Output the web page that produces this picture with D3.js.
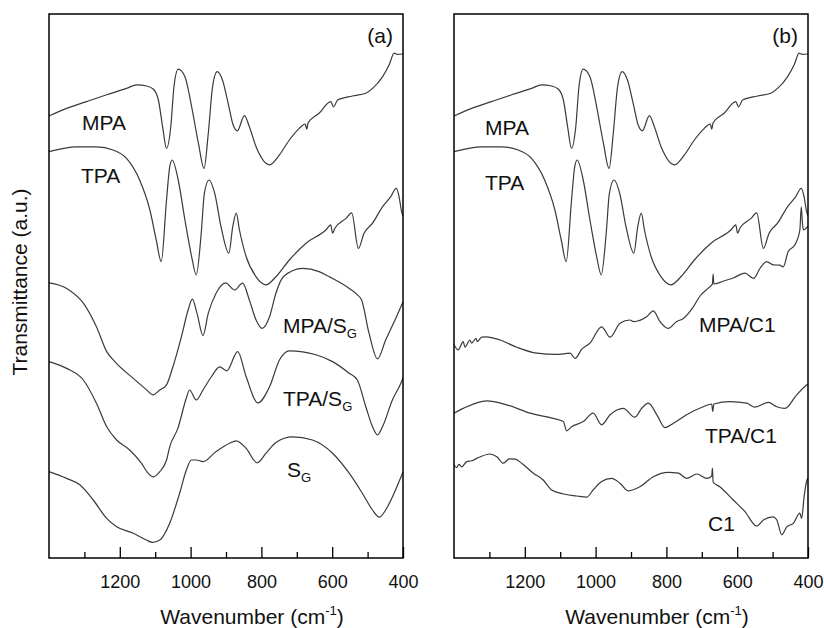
<!DOCTYPE html>
<html>
<head>
<meta charset="utf-8">
<script src="https://cdn.jsdelivr.net/npm/d3@7"></script>
<style>
  body { margin: 0; background: #fff; }
  text { font-family: "Liberation Sans", Arial, sans-serif; fill: #111; }
</style>
</head>
<body>
<svg width="824" height="628"></svg>
<script>
// FTIR spectra, [wavenumber, transmittance a.u.]
const mpa = [[1400,110.5],[1350,112.4],[1294,114.1],[1237,115.8],[1181,117.4],[1152,118.3],[1124,118],[1105,117.2],[1091,114.5],[1079,107.8],[1068,102.4],[1056,107.8],[1047,117.8],[1035,122.2],[1016,120.3],[997,112.8],[978,103.7],[962,97.4],[950,106.2],[938,117.8],[925,121.6],[910,119.5],[894,113.7],[880,108.3],[868,106.8],[848,110.6],[834,107.8],[815,102.8],[777,98.3],[749,100.8],[721,104.5],[693,107.4],[676,108.5],[672,107.2],[668,108.8],[637,111.2],[604,114.1],[596,112.8],[585,114.5],[543,115.5],[505,116.2],[486,117.4],[458,120.3],[439,123.3],[425,126.2],[416,125.9],[400,126]];
const tpa = [[1400,101.6],[1322,102.8],[1266,102.8],[1219,102],[1181,99.9],[1144,94.5],[1115,87],[1097,79.5],[1083,74.1],[1068,89.5],[1059,97.8],[1052,99.5],[1035,94.5],[1016,84.5],[997,75.3],[984,70.8],[970,81.2],[961,91.2],[948,94.5],[932,91.2],[914,82.8],[892,76.2],[881,82.8],[871,86.2],[862,82],[843,75.3],[815,70.3],[787,68.3],[759,70.3],[721,74.5],[674,78.7],[618,82],[604,83.3],[599,81.2],[592,82.5],[561,84.9],[545,86.3],[526,77.4],[510,81.2],[486,83.7],[458,87.8],[435,90.3],[419,92.4],[411,90.3],[404,86.6],[400,85.5]];
const mpaSg = [[1400,68.8],[1350,67.4],[1303,63.7],[1266,57.8],[1237,51.6],[1214,49.1],[1162,44.9],[1129,42.4],[1106,40.8],[1087,42],[1068,43.3],[1050,47.8],[1026,55.3],[1007,62],[995,64.7],[982,61.2],[965,55.6],[950,61.2],[928,66.2],[901,68.8],[876,67],[853,68.7],[834,64.5],[815,59.5],[798,57.4],[777,60.3],[759,66.2],[738,70.3],[684,72.4],[637,71.6],[608,70.3],[552,67.4],[529,65.8],[517,64.5],[496,56.2],[472,49.8],[449,54.5],[420,60],[406,62.8],[400,64]];
const tpaSg = [[1400,49.1],[1350,47.4],[1303,44.5],[1266,38.7],[1237,32.8],[1209,29.5],[1172,27],[1139,23.7],[1120,21.2],[1106,20.3],[1087,21.6],[1068,24.5],[1059,27.8],[1036,32.4],[1012,40],[1003,42],[984,39.5],[965,42],[940,45.5],[918,47.8],[898,46.8],[867,51.6],[843,45.3],[810,38.8],[777,42.8],[749,49.5],[721,51.8],[646,50.8],[599,49.1],[552,46.2],[529,44.5],[505,37.8],[486,32.8],[472,30.8],[458,32.8],[430,39.5],[406,43.7],[400,45]];
const sg = [[1400,21.6],[1350,19.9],[1313,18.3],[1275,14.5],[1237,9.9],[1209,7.8],[1162,6.2],[1125,4.5],[1108,3.9],[1087,4.5],[1059,8.7],[1031,16.2],[1012,22],[998,24.5],[984,24.5],[965,24.1],[928,26.6],[890,28.7],[871,29.3],[843,27.4],[812,23.8],[787,26.2],[759,28.9],[712,30.3],[656,29.5],[599,26.2],[552,21.2],[515,16.2],[486,12],[467,10.2],[449,12],[425,16.2],[406,20.2],[400,21.5]];
const mpaC1 = [[1400,53.3],[1388,52],[1374,54.1],[1369,52.7],[1355,54.5],[1350,53.7],[1338,54.9],[1334,54.1],[1322,55.2],[1308,55.3],[1270,54.5],[1223,52.7],[1166,51.2],[1110,50.9],[1072,51.2],[1058,49.9],[1039,52.2],[1016,53.7],[983,57.8],[959,55.2],[931,58.7],[903,59.5],[893,59.1],[856,60.3],[837,61.8],[818,59.1],[795,57.4],[771,59.1],[752,59.9],[724,62.8],[705,65.5],[680,67.6],[670,68.5],[668,71],[666,68.5],[640,69.2],[611,70],[578,71.2],[554,69.9],[535,72.5],[517,74.1],[498,73.3],[480,73.2],[470,72.8],[456,76.6],[437,78.3],[423,82],[419,87.8],[416,84],[413,82],[402,82.8],[400,83]];
const tpaC1 = [[1400,36.2],[1374,37.4],[1308,39.3],[1251,38.3],[1185,36.2],[1120,34.9],[1091,34.1],[1082,31.8],[1068,32.8],[1035,34.1],[1007,36.2],[983,33.3],[959,35.8],[922,37.4],[889,35.2],[870,37.4],[851,38.7],[827,35.8],[804,32.6],[780,33.7],[743,35.8],[696,37.8],[672,38.5],[669,36.6],[666,38.5],[620,39.1],[573,38.7],[550,37.7],[512,38.9],[488,37.8],[465,37.4],[432,40.8],[403,43.3],[400,43.5]];
const c1 = [[1400,23.3],[1393,22.6],[1386,23.4],[1378,22.8],[1364,24.1],[1350,24.3],[1336,24.9],[1298,26],[1279,25.3],[1260,23.7],[1244,24.8],[1227,24.7],[1209,23.7],[1176,21.2],[1148,19.5],[1124,17],[1091,16],[1053,15.5],[1025,15.2],[1007,17],[983,19.1],[955,19.9],[931,18.7],[908,16.8],[875,17.8],[837,20.3],[795,21.4],[766,21.2],[743,19.9],[714,21],[686,19.9],[672,20.5],[670,22.5],[668,19],[649,17.8],[611,14.5],[578,11.6],[545,8],[526,9.5],[498,10.3],[488,9.5],[474,5.8],[460,7.8],[441,8.7],[423,11.2],[418,9.9],[411,15.3],[403,19.5],[400,20]];

const majorTicks = [1200, 1000, 800, 600, 400];
const minorTicks = [1300, 1100, 900, 700, 500];

const panels = [
  { left: 49, tag: "(a)", series: [
    { data: mpa, label: "MPA", lx: 82, ly: 130 },
    { data: tpa, label: "TPA", lx: 81, ly: 183 },
    { data: mpaSg, label: "MPA/S", sub: "G", lx: 283, ly: 333 },
    { data: tpaSg, label: "TPA/S", sub: "G", lx: 283, ly: 406 },
    { data: sg, label: "S", sub: "G", lx: 287, ly: 477 }
  ]},
  { left: 454, tag: "(b)", series: [
    { data: mpa, label: "MPA", lx: 485, ly: 135 },
    { data: tpa, label: "TPA", lx: 485, ly: 190 },
    { data: mpaC1, label: "MPA/C1", lx: 699, ly: 332 },
    { data: tpaC1, label: "TPA/C1", lx: 705, ly: 443 },
    { data: c1, label: "C1", lx: 708, ly: 531 }
  ]}
];

const plotTop = 14, plotBottom = 558, pw = 354;
const svg = d3.select("svg");

const y = d3.scaleLinear().domain([0, 136]).range([plotBottom, plotTop]);

panels.forEach(p => {
  const x = d3.scaleLinear().domain([1400, 400]).range([p.left, p.left + pw]);

  const line = d3.line()
    .x(d => x(d[0]))
    .y(d => y(d[1]))
    .curve(d3.curveMonotoneX);

  svg.append("g")
    .selectAll("path")
    .data(p.series)
    .join("path")
    .attr("d", d => line(d.data))
    .attr("fill", "none")
    .attr("stroke", "#3a3a3a")
    .attr("stroke-width", 1.2);

  // ticks point inward
  const ax = svg.append("g")
    .attr("transform", `translate(0,${plotBottom})`)
    .call(d3.axisBottom(x).tickValues(majorTicks).tickSize(-11).tickPadding(17).tickFormat(d3.format("d")));
  ax.select(".domain").remove();
  ax.selectAll(".tick line").attr("stroke", "#000").attr("stroke-width", 1.3);
  ax.selectAll(".tick text")
    .style("font-family", '"Liberation Sans", Arial, sans-serif')
    .style("font-size", "18px")
    .attr("fill", "#111");

  const mx = svg.append("g")
    .attr("transform", `translate(0,${plotBottom})`)
    .call(d3.axisBottom(x).tickValues(minorTicks).tickSize(-6).tickFormat(""));
  mx.select(".domain").remove();
  mx.selectAll(".tick line").attr("stroke", "#000").attr("stroke-width", 1.3);

  svg.append("rect")
    .attr("x", p.left).attr("y", plotTop)
    .attr("width", pw).attr("height", plotBottom - plotTop)
    .attr("fill", "none").attr("stroke", "#000").attr("stroke-width", 1.5);

  svg.append("text")
    .attr("x", p.left + pw - 10).attr("y", 43)
    .attr("text-anchor", "end")
    .style("font-size", "21px")
    .text(p.tag);

  p.series.forEach(s => {
    const t = svg.append("text")
      .attr("x", s.lx).attr("y", s.ly)
      .style("font-size", "21px");
    t.append("tspan").text(s.label);
    if (s.sub) t.append("tspan").attr("dy", 5).style("font-size", "13px").text(s.sub);
  });

  const title = svg.append("text")
    .attr("x", p.left + pw / 2 + 26).attr("y", 624)
    .attr("text-anchor", "middle")
    .style("font-size", "21px");
  title.append("tspan").text("Wavenumber (cm");
  title.append("tspan").attr("dy", -9).style("font-size", "13px").text("-1");
  title.append("tspan").attr("dy", 9).text(")");
});

svg.append("text")
  .attr("transform", "translate(27,282) rotate(-90)")
  .attr("text-anchor", "middle")
  .style("font-size", "21px")
  .text("Transmittance (a.u.)");
</script>
</body>
</html>
